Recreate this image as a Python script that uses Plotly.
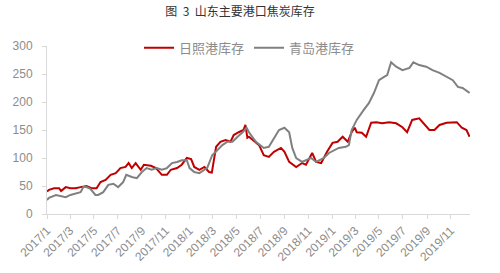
import plotly.graph_objects as go

# 日照港库存 (万吨)
rz_dates = ["2017-01-01","2017-01-06","2017-01-19","2017-02-01","2017-02-06","2017-02-18","2017-03-02","2017-03-15",
            "2017-03-28","2017-04-12","2017-04-25","2017-05-08","2017-05-18","2017-05-31","2017-06-13","2017-06-26",
            "2017-07-08","2017-07-21","2017-07-29","2017-08-06","2017-08-16","2017-08-29","2017-09-06","2017-09-24",
            "2017-10-07","2017-10-22","2017-11-04","2017-11-14","2017-11-30","2017-12-12","2017-12-25","2018-01-05",
            "2018-01-13","2018-01-26","2018-02-08","2018-02-20","2018-02-27","2018-03-04","2018-03-10","2018-03-21",
            "2018-04-03","2018-04-16","2018-04-24","2018-05-07","2018-05-19","2018-05-24","2018-05-29","2018-06-02",
            "2018-06-28","2018-07-10","2018-07-23","2018-08-05","2018-08-23","2018-09-01","2018-09-13","2018-10-01",
            "2018-10-16","2018-10-26","2018-11-11","2018-11-21","2018-12-04","2018-12-19","2019-01-02","2019-01-15",
            "2019-01-28","2019-02-10","2019-02-20","2019-02-28","2019-03-05","2019-03-18","2019-03-29","2019-04-11",
            "2019-04-24","2019-05-09","2019-05-27","2019-06-14","2019-06-30","2019-07-12","2019-07-25","2019-08-12",
            "2019-08-20","2019-09-07","2019-09-20","2019-10-03","2019-10-21","2019-11-06","2019-11-16","2019-11-29",
            "2019-12-11","2019-12-19"]
rz_values = [40,43,46,46,41,48,46,46,
             48,50,46,46,57,61,70,73,
             82,84,91,82,91,79,88,86,
             82,70,70,79,82,88,100,98,
             84,79,84,75,74,95,120,129,
             132,129,141,146,150,159,136,138,
             123,105,102,111,118,111,93,84,
             91,88,109,93,91,111,127,129,
             138,129,146,154,146,145,138,163,
             164,162,164,162,155,146,168,171,
             164,150,150,159,163,163,164,154,
             150,138]

# 青岛港库存 (万吨)
qd_dates = ["2017-01-01","2017-01-06","2017-01-24","2017-02-18","2017-03-02","2017-03-15","2017-03-28","2017-04-04",
            "2017-04-12","2017-04-22","2017-05-05","2017-05-12","2017-05-25","2017-06-07","2017-06-20","2017-07-02",
            "2017-07-15","2017-07-23","2017-08-06","2017-08-19","2017-09-01","2017-09-13","2017-09-26","2017-10-09",
            "2017-10-22","2017-11-04","2017-11-17","2017-11-30","2017-12-12","2017-12-25","2018-01-01","2018-01-13",
            "2018-01-26","2018-02-08","2018-02-15","2018-02-28","2018-03-13","2018-03-26","2018-04-08","2018-04-21",
            "2018-05-04","2018-05-17","2018-05-27","2018-06-02","2018-06-20","2018-07-10","2018-07-23","2018-08-05",
            "2018-08-18","2018-09-01","2018-09-13","2018-09-21","2018-10-01","2018-10-16","2018-11-08","2018-11-21",
            "2018-12-11","2018-12-24","2019-01-05","2019-01-18","2019-02-05","2019-02-13","2019-02-20","2019-03-05",
            "2019-03-23","2019-04-05","2019-04-18","2019-05-01","2019-05-14","2019-05-22","2019-06-01","2019-06-14",
            "2019-06-30","2019-07-18","2019-07-28","2019-08-12","2019-08-30","2019-09-15","2019-10-03","2019-10-21",
            "2019-11-06","2019-11-19","2019-12-01","2019-12-19"]
qd_values = [25,29,34,30,34,37,39,48,
             48,45,34,34,39,52,54,48,
             57,70,66,64,75,82,79,82,
             79,82,91,93,96,96,82,75,
             73,79,82,105,114,123,129,129,
             138,146,154,146,129,118,120,136,
             150,154,146,118,100,93,100,93,
             100,109,114,118,120,123,150,168,
             186,198,216,239,245,248,271,263,
             257,261,271,266,263,257,252,245,
             239,227,225,216]

fig = go.Figure()
fig.add_trace(go.Scatter(x=rz_dates, y=rz_values, mode="lines", name="日照港库存",
                         line=dict(color="#C00000", width=2)))
fig.add_trace(go.Scatter(x=qd_dates, y=qd_values, mode="lines", name="青岛港库存",
                         line=dict(color="#808080", width=2)))

tick_font = dict(family="Liberation Sans, Arial, sans-serif", size=12, color="#8c8c8c")
fig.update_layout(
    width=500, height=273,
    margin=dict(l=47, r=30, t=46, b=59),
    paper_bgcolor="white", plot_bgcolor="white",
    title=dict(text="图\u00a0\u00a03\u00a0\u00a0山东主要港口焦炭库存", x=0.48, xanchor="center", y=0.955, yanchor="middle",
               font=dict(family="Noto Sans CJK SC", size=12, color="#333333")),
    legend=dict(orientation="h", x=0.2175, y=0.99, xanchor="left", yanchor="middle",
                font=dict(family="Noto Sans CJK SC", size=13, color="#8c8c8c"),
                bgcolor="rgba(0,0,0,0)", itemwidth=30),
    showlegend=True,
)
fig.update_xaxes(type="date", range=["2017-01-01", "2019-12-20"], automargin=False,
                 tick0="2017-01-01", dtick="M2", tickformat="%Y/%-m", tickangle=-45,
                 ticks="outside", ticklen=4, tickcolor="#d9d9d9",
                 showline=True, linecolor="#d9d9d9", linewidth=1,
                 showgrid=False, zeroline=False, tickfont=tick_font)
fig.update_yaxes(range=[0, 300], dtick=50, showgrid=False, zeroline=False, automargin=False,
                 showline=True, linecolor="#d9d9d9", linewidth=1,
                 ticks="outside", ticklen=4, tickcolor="#d9d9d9",
                 ticklabelstandoff=7, tickfont=tick_font)

fig.write_html("out.html")
